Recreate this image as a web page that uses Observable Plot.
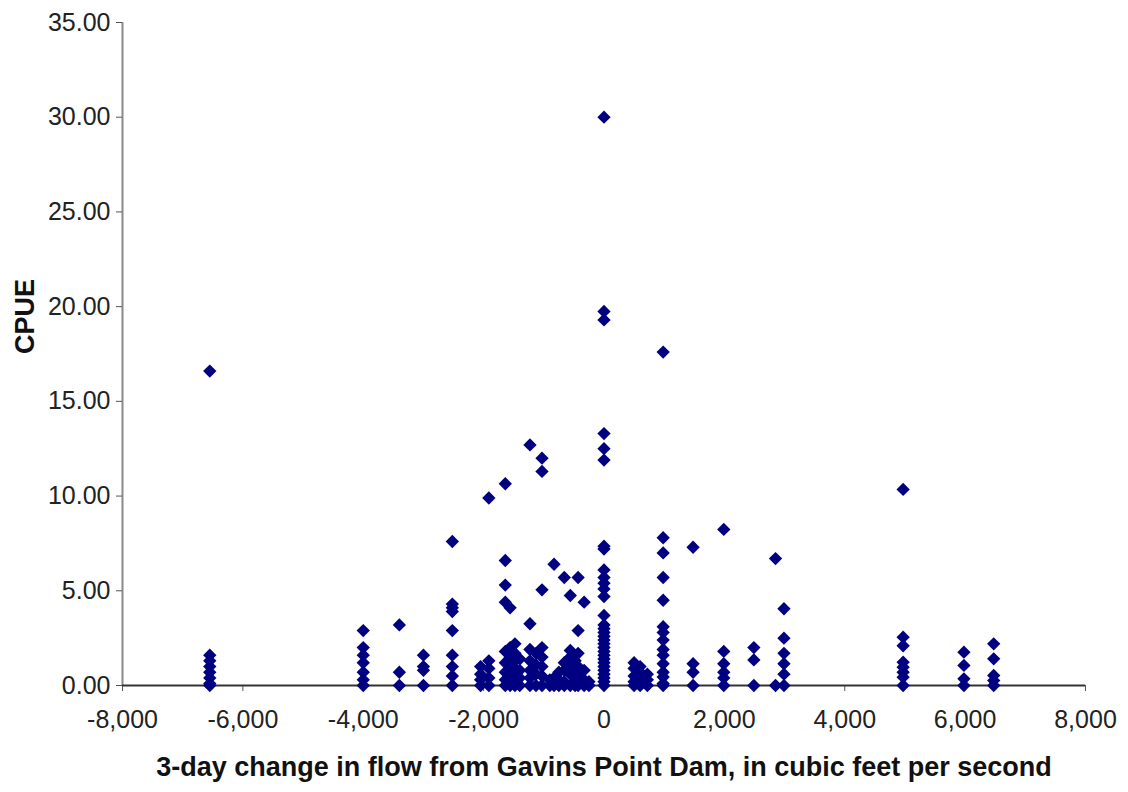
<!DOCTYPE html>
<html>
<head>
<meta charset="utf-8">
<script src="https://cdn.jsdelivr.net/npm/d3@7"></script>
<script src="https://cdn.jsdelivr.net/npm/@observablehq/plot@0.6"></script>
<style>
  html, body { margin: 0; padding: 0; background: #fff; }
</style>
</head>
<body>
<div id="chart"></div>
<script>
// ---- Data ----
const xLabel = "3-day change in flow from Gavins Point Dam, in cubic feet per second";
const yLabel = "CPUE";
const xTicks = [-8000, -6000, -4000, -2000, 0, 2000, 4000, 6000, 8000];
const yTicks = [0, 5, 10, 15, 20, 25, 30, 35];

// x value of each column of points, and the CPUE values stacked in it
const flowColumns = [
  -6550, -4000, -3400, -3000, -2520, -2050, -1913, -1640, -1560, -1480, -1400,
  -1230, -1130, -1030, -900, -830, -750, -660, -560, -480, -430, -330, -250,
  0, 500, 600, 720, 983, 1480, 1990, 2490, 2850, 2990, 4970, 5980, 6475
];
const cpueColumns = [
  [16.6, 1.6, 1.3, 1.0, 0.7, 0.4, 0.1, 0],
  [2.9, 2.0, 1.6, 1.2, 0.7, 0.3, 0],
  [3.2, 0.7, 0],
  [1.6, 1.0, 0.8, 0],
  [7.6, 4.3, 4.1, 3.9, 2.9, 1.6, 1.0, 0.5, 0],
  [1.0, 0.6, 0.3, 0],
  [9.9, 1.3, 0.9, 0.4, 0],
  [10.65, 6.6, 5.3, 4.4, 1.8, 1.2, 0.7, 0.3, 0],
  [4.1, 2.0, 1.5, 1.0, 0.6, 0.2, 0],
  [2.2, 1.7, 1.3, 0.9, 0.5, 0.1, 0],
  [1.4, 0.8, 0.4, 0],
  [12.7, 3.26, 1.9, 1.3, 0.8, 0.4, 0],
  [1.7, 1.1, 0.6, 0],
  [12.0, 11.3, 5.05, 2.0, 1.5, 1.0, 0.5, 0],
  [0.3, 0],
  [6.4, 0.4, 0],
  [0.7, 0.3, 0],
  [5.7, 1.2, 0.8, 0.2, 0],
  [4.75, 1.85, 1.5, 1.1, 0.6, 0],
  [1.3, 0.9, 0.4, 0],
  [5.7, 2.9, 1.7, 1.0, 0.5, 0],
  [4.4, 0.8, 0.3, 0],
  [0.2, 0],
  [30.0, 19.75, 19.3, 13.3, 12.5, 11.9, 7.35, 7.2, 6.1, 5.7, 5.4, 5.1, 4.7, 3.7, 3.2, 3.0, 2.8, 2.6, 2.4, 2.2, 2.0, 1.8, 1.6, 1.4, 1.2, 1.0, 0.8, 0.6, 0.4, 0.2, 0],
  [1.2, 0.9, 0.5, 0.2, 0],
  [1.0, 0.7, 0.3, 0],
  [0.6, 0.3, 0],
  [17.6, 7.8, 7.0, 5.7, 4.5, 3.1, 2.8, 2.4, 1.9, 1.6, 1.15, 0.7, 0.45, 0.1, 0],
  [7.3, 1.15, 0.7, 0],
  [8.24, 1.8, 1.15, 0.7, 0.4, 0],
  [2.0, 1.35, 0],
  [6.7, 0],
  [4.05, 2.5, 1.7, 1.15, 0.6, 0],
  [10.35, 2.55, 2.1, 1.23, 0.97, 0.7, 0.44, 0],
  [1.76, 1.06, 0.35, 0],
  [2.2, 1.41, 0.53, 0.26, 0]
];

// ---- Build table for the library ----
const points = flowColumns.flatMap((fx, i) => cpueColumns[i].map(c => ({flow: fx, cpue: c})));

const fmtX = d3.formatLocale({decimal: ".", thousands: ",", grouping: [3], currency: ["$", ""], minus: "-"}).format(",");
const fmtY = d3.format(".2f");

const FONT = "'Liberation Sans Narrow', 'Arial Narrow', 'Liberation Sans', Arial, sans-serif";

const chart = Plot.plot({
  width: 1128,
  height: 792,
  marginLeft: 122,
  marginRight: 43,
  marginTop: 22,
  marginBottom: 107,
  x: {domain: [-8000, 8000]},
  y: {domain: [0, 35]},
  style: {fontFamily: FONT, background: "#fff", color: "#222"},
  marks: [
    Plot.ruleX([-8000], {stroke: "#8a8a8a", strokeWidth: 2}),
    Plot.axisY({ticks: yTicks, tickFormat: fmtY, tickSize: 6, tickPadding: 6, fontSize: 25, label: null, stroke: "#555"}),
    Plot.axisX({ticks: xTicks, tickFormat: fmtX, tickSize: 6, tickPadding: 19, fontSize: 25, label: null, stroke: "#555"}),
    Plot.ruleY([0], {stroke: "#333", strokeWidth: 2}),
    Plot.dot(points, {x: "flow", y: "cpue", symbol: "diamond2", r: 6, fill: "#000080", stroke: "none"}),
    Plot.text([xLabel], {frameAnchor: "bottom", dy: 90, fontSize: 27, fontWeight: "bold", fill: "#111"}),
    Plot.text([yLabel], {frameAnchor: "left", rotate: -90, dx: -97, fontSize: 27, fontWeight: "bold", fill: "#111"})
  ]
});
document.getElementById("chart").appendChild(chart);
</script>
</body>
</html>
